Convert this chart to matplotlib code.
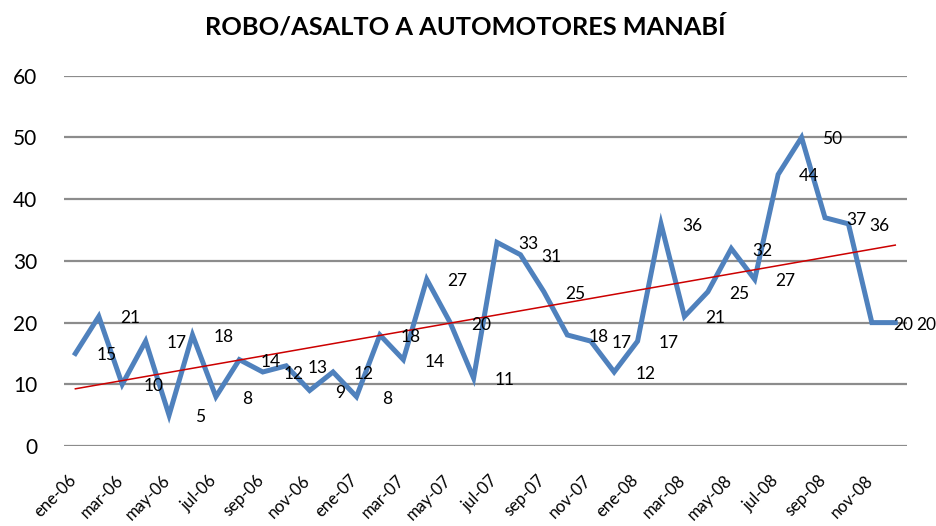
import numpy as np
import matplotlib
matplotlib.use("Agg")
from matplotlib import pyplot as plt

# monthly counts, ene-06 .. dic-08
months = ["ene", "feb", "mar", "abr", "may", "jun", "jul", "ago", "sep", "oct", "nov", "dic"]
years = ["06", "07", "08"]
labels = [m + "-" + y for y in years for m in months]
values = [15, 21, 10, 17, 5, 18, 8, 14, 12, 13, 9, 12,
          8, 18, 14, 27, 20, 11, 33, 31, 25, 18, 17, 12,
          17, 36, 21, 25, 32, 27, 44, 50, 37, 36, 20, 20]
yticks = [0, 10, 20, 30, 40, 50, 60]
title = "ROBO/ASALTO A AUTOMOTORES MANABÍ"


def main():
    plt.rcParams["font.family"] = ["Lato", "DejaVu Sans"]
    fig = plt.figure(figsize=(9.36, 5.26), dpi=100)
    ax = fig.add_axes([0.068, 0.152, 0.901, 0.704])

    x = np.arange(len(values))
    ax.plot(x, values, color="#4F81BD", lw=3.6, solid_joinstyle="miter", zorder=3)

    # linear trend
    k, b = np.polyfit(x, values, 1)
    ax.plot(x, k * x + b, color="#CC0000", lw=1.1, zorder=4)

    for xi, v in zip(x, values):
        ax.annotate(str(v), (xi, v), xytext=(31, -2), textcoords="offset pixels",
                    ha="center", va="center", fontsize=12.5, zorder=5,
                    annotation_clip=False)

    ax.set_xlim(-0.5, len(values) - 0.5)
    ax.set_ylim(0, 60)
    ax.set_yticks(yticks)
    ax.set_yticklabels([str(t) for t in yticks], fontsize=15)
    ax.set_xticks(x[::2])
    ax.set_xticklabels([])
    # category labels every 2 months, slanted
    for xi, lab in zip(x[::2], labels[::2]):
        ax.annotate(lab, (xi, 0), xycoords=("data", "axes fraction"),
                    xytext=(4, -26), textcoords="offset pixels",
                    rotation=45, ha="right", va="top", fontsize=12,
                    annotation_clip=False)

    ax.grid(axis="y", color="#8C8C8C", lw=1.6)
    ax.set_axisbelow(True)
    for s in ax.spines.values():
        s.set_visible(False)
    ax.tick_params(length=0, pad=19, axis="y")
    ax.tick_params(length=0, axis="x")

    fig.text(0.497, 0.95, title, ha="center", va="center", fontsize=18.3, fontweight="bold")

    fig.savefig("out.png", dpi=100)


if __name__ == "__main__":
    main()
